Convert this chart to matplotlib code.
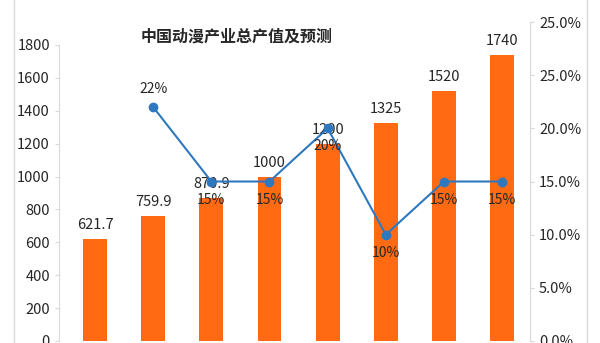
import matplotlib
matplotlib.use('Agg')
import matplotlib.pyplot as plt
from matplotlib.lines import Line2D
import numpy as np

plt.rcParams['font.family'] = ['Noto Sans CJK SC', 'DejaVu Sans']

# data
years = ['2013', '2014', '2015', '2016', '2017E', '2018E', '2019E', '2020E']
output_value = [621.7, 759.9, 870.9, 1000, 1200, 1325, 1520, 1740]
value_labels = ['621.7', '759.9', '870.9', '1000', '1200', '1325', '1520', '1740']
growth = [np.nan, 22, 15, 15, 20, 10, 15, 15]
left_ticks = [0, 200, 400, 600, 800, 1000, 1200, 1400, 1600, 1800]
right_ticks = [0, 5, 10, 15, 20, 25, 30]
right_labels = ['0.0%', '5.0%', '10.0%', '15.0%', '20.0%', '25.0%', '25.0%']

bar_col = '#FF6A13'
line_col = '#2E78C0'
grey = '#D9D9D9'
txt = '#262626'

fig = plt.figure(figsize=(6, 3.43), dpi=100)
ax = fig.add_axes([59/600, 2/343, 471/600, 319/343])
ax2 = ax.twinx()

x = np.arange(len(years))
ax.bar(x, output_value, width=0.41, color=bar_col, zorder=2)
ax.set_xlim(-0.62, 7.48)
ax.set_ylim(0, 1800 * 319 / 296)
ax.set_yticks(left_ticks)
ax.set_xticks([])
ax.spines['left'].set_bounds(0, 1800)
for s in ['top', 'right', 'bottom']:
    ax.spines[s].set_visible(False)
ax.spines['left'].set_color(grey)
ax.tick_params(axis='y', colors=grey, labelcolor=txt, labelsize=10.5, length=3)

for i, v in enumerate(output_value):
    ax.annotate(value_labels[i], (x[i], v), xytext=(0, 5), textcoords='offset points',
                ha='center', va='bottom', fontsize=10.5, color=txt)

ax2.plot(x, growth, color=line_col, lw=1.5, marker='o', ms=6, zorder=3)
ax2.set_ylim(0, 30)
ax2.set_yticks(right_ticks)
ax2.set_yticklabels(right_labels)
for s in ['top', 'left', 'bottom']:
    ax2.spines[s].set_visible(False)
ax2.spines['right'].set_color(grey)
ax2.tick_params(axis='y', colors=grey, labelcolor=txt, labelsize=10.5, length=3)

for i, g in enumerate(growth):
    if np.isnan(g):
        continue
    dy = 8 if i == 1 else -8
    ax2.annotate(f'{g:.0f}%', (x[i], g), xytext=(0, dy), textcoords='offset points',
                 ha='center', va='bottom' if dy > 0 else 'top', fontsize=10, color=txt)

fig.text(237/600, 1 - 37/343, '中国动漫产业总产值及预测', ha='center', va='center',
         fontsize=11.5, fontweight='bold', color=txt)

# outer chart border
fig.add_artist(Line2D([14/600, 14/600], [0, 1], color=grey, lw=1))
fig.add_artist(Line2D([587/600, 587/600], [0, 1], color=grey, lw=1))

fig.savefig('out.png', dpi=100)
